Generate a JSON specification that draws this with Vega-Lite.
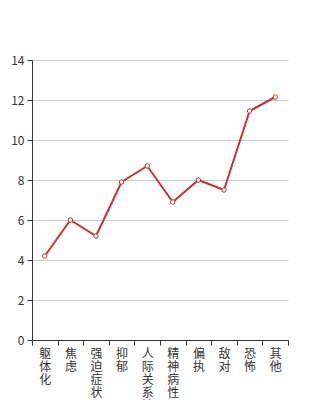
{
  "$schema": "https://vega.github.io/schema/vega-lite/v6.json",
  "width": 256,
  "height": 280,
  "autosize": "none",
  "padding": {"left": 32, "top": 60, "right": 32, "bottom": 60},
  "background": "white",
  "config": {"view": {"stroke": null}, "font": "Noto Sans CJK SC"},
  "data": {"values": [
    {"cat": "躯体化", "v": 4.2},
    {"cat": "焦虑", "v": 6.0},
    {"cat": "强迫症状", "v": 5.2},
    {"cat": "抑郁", "v": 7.9},
    {"cat": "人际关系敏感", "v": 8.7},
    {"cat": "精神病性", "v": 6.9},
    {"cat": "偏执", "v": 8.0},
    {"cat": "敌对", "v": 7.5},
    {"cat": "恐怖", "v": 11.45},
    {"cat": "其他", "v": 12.15}
  ]},
  "encoding": {
    "x": {"field": "cat", "type": "nominal", "sort": null,
      "scale": {"paddingInner": 0, "paddingOuter": 0},
      "axis": {"title": null, "labelAngle": 0, "labelExpr": "split(datum.label, '')",
        "labelLineHeight": 13, "labelFontSize": 12, "labelColor": "#333", "labelBaseline": "top",
        "labelPadding": 3, "tickBand": "extent", "domainColor": "#333", "tickColor": "#333",
        "tickSize": 5, "grid": false, "labelFont": "Noto Sans CJK SC"}},
    "y": {"field": "v", "type": "quantitative",
      "scale": {"domain": [0, 14]},
      "axis": {"title": null, "values": [0, 2, 4, 6, 8, 10, 12, 14], "labelFontSize": 12,
        "labelColor": "#333", "domainColor": "#333", "tickColor": "#333", "tickSize": 5,
        "labelPadding": 3, "gridColor": "#ccc", "labelFont": "Noto Sans CJK SC"}}
  },
  "layer": [
    {"mark": {"type": "line", "color": "#c23531", "strokeWidth": 2}},
    {"mark": {"type": "point", "filled": true, "fill": "white", "stroke": "#c23531", "strokeWidth": 1, "size": 20, "opacity": 1}}
  ]
}
